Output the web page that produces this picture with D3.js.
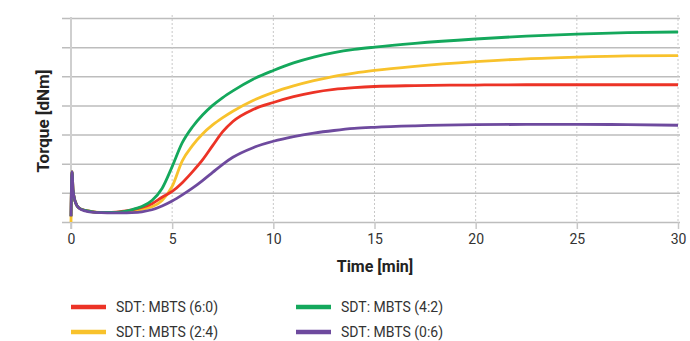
<!DOCTYPE html>
<html>
<head>
<meta charset="utf-8">
<style>
    body { margin: 0; background: #fff; }
    svg { font-family: Roboto, "DejaVu Sans", sans-serif; }
    .axis .domain { display: none; }
</style>
</head>
<body>
<svg width="690" height="341"></svg>
<script src="https://d3js.org/d3.v7.min.js"></script>
<script>
    // time [min]
    var times = [0, 0.05, 0.1, 0.2, 0.4, 0.7, 1, 1.5, 2, 2.5, 3, 3.5, 4, 4.5, 5, 5.5, 6, 6.5, 7, 7.5, 8, 9, 10, 11, 12, 13, 14, 15, 17, 20, 22.5, 25, 27.5, 30];

    // torque readings (grid units, no labels on the original)
    var red60 = [0.2, 1.72, 1.1, 0.72, 0.48, 0.4, 0.36, 0.33, 0.33, 0.36, 0.42, 0.5, 0.63, 0.85, 1.05, 1.35, 1.72, 2.13, 2.62, 3.1, 3.45, 3.86, 4.1, 4.3, 4.45, 4.55, 4.61, 4.65, 4.68, 4.7, 4.71, 4.71, 4.71, 4.71];
    var yellow24 = [0.0, 1.72, 1.1, 0.72, 0.48, 0.4, 0.36, 0.33, 0.32, 0.33, 0.36, 0.43, 0.52, 0.74, 1.22, 2.1, 2.62, 3.02, 3.33, 3.58, 3.8, 4.17, 4.45, 4.67, 4.85, 5.0, 5.11, 5.2, 5.34, 5.5, 5.6, 5.66, 5.7, 5.71];
    var green42 = [0.2, 1.72, 1.1, 0.72, 0.48, 0.4, 0.36, 0.33, 0.33, 0.35, 0.42, 0.53, 0.74, 1.15, 1.9, 2.72, 3.26, 3.67, 4.0, 4.27, 4.5, 4.9, 5.2, 5.46, 5.66, 5.81, 5.92, 6.0, 6.13, 6.28, 6.38, 6.45, 6.5, 6.52];
    var purple06 = [0.2, 1.72, 1.1, 0.72, 0.47, 0.38, 0.34, 0.32, 0.31, 0.31, 0.32, 0.35, 0.42, 0.55, 0.72, 0.93, 1.16, 1.42, 1.7, 1.98, 2.22, 2.55, 2.77, 2.93, 3.05, 3.14, 3.21, 3.25, 3.3, 3.34, 3.35, 3.35, 3.34, 3.32];

    var xTicks = [0, 5, 10, 15, 20, 25, 30];
    var yTicks = [0, 1, 2, 3, 4, 5, 6, 7];

    var series = [
        {name: "SDT: MBTS (2:4)", values: yellow24, color: "#f8c22c"},
        {name: "SDT: MBTS (6:0)", values: red60, color: "#ec3326"},
        {name: "SDT: MBTS (4:2)", values: green42, color: "#14a85c"},
        {name: "SDT: MBTS (0:6)", values: purple06, color: "#6e4a9e"}
    ];
    var legendOrder = ["SDT: MBTS (6:0)", "SDT: MBTS (4:2)", "SDT: MBTS (2:4)", "SDT: MBTS (0:6)"];

    var svg = d3.select("svg");

    var x = d3.scaleLinear().domain([0, 30]).range([71, 678]);
    var y = d3.scaleLinear().domain([0, 7]).range([222, 18]);

    // horizontal grid
    svg.append("g")
        .attr("class", "axis")
        .attr("transform", "translate(62,0)")
        .call(d3.axisLeft(y).tickValues(yTicks).tickSize(-618).tickFormat(""))
        .selectAll("line")
        .attr("stroke", "#bdbdbd")
        .attr("stroke-width", 1.5);

    // vertical dashed grid
    svg.append("g")
        .selectAll("line")
        .data(xTicks.slice(1))
        .enter().append("line")
        .attr("x1", function(d) { return x(d); })
        .attr("x2", function(d) { return x(d); })
        .attr("y1", 15)
        .attr("y2", 222)
        .attr("stroke", "#c8c8c8")
        .attr("stroke-width", 1)
        .attr("stroke-dasharray", "2,2");

    // y axis line at t = 0
    svg.append("line")
        .attr("x1", x(0)).attr("x2", x(0))
        .attr("y1", 17).attr("y2", 229)
        .attr("stroke", "#cfcfcf")
        .attr("stroke-width", 2);

    // x axis
    var xAxis = svg.append("g")
        .attr("class", "axis")
        .attr("transform", "translate(0,222)")
        .call(d3.axisBottom(x).tickValues(xTicks).tickSize(7).tickPadding(5));
    xAxis.selectAll("line").attr("stroke", "#c8c8c8").attr("stroke-width", 1.5);
    xAxis.selectAll("text")
        .attr("font-size", 14)
        .attr("fill", "#333")
        .attr("font-family", "Roboto, sans-serif");

    var line = d3.line()
        .x(function(d, i) { return x(times[i]); })
        .y(function(d) { return y(d); })
        .curve(d3.curveMonotoneX);

    svg.append("g")
        .selectAll("path")
        .data(series)
        .enter().append("path")
        .attr("fill", "none")
        .attr("stroke", function(d) { return d.color; })
        .attr("stroke-width", 2.8)
        .attr("stroke-linejoin", "round")
        .attr("d", function(d) { return line(d.values); });

    // axis titles
    svg.append("text")
        .attr("x", 375)
        .attr("y", 272)
        .attr("text-anchor", "middle")
        .attr("font-size", 16)
        .attr("font-weight", "bold")
        .attr("fill", "#222")
        .text("Time [min]");

    svg.append("text")
        .attr("transform", "translate(49,121) rotate(-90)")
        .attr("text-anchor", "middle")
        .attr("font-size", 17)
        .attr("font-weight", "bold")
        .attr("fill", "#222")
        .text("Torque [dNm]");

    // legend
    var legend = svg.append("g")
        .selectAll("g")
        .data(legendOrder)
        .enter().append("g")
        .attr("transform", function(d, i) {
            return "translate(" + (71 + (i % 2) * 225) + "," + (307 + Math.floor(i / 2) * 25) + ")";
        });

    legend.append("line")
        .attr("x1", 0).attr("x2", 35)
        .attr("stroke", function(d) { return series.find(function(s) { return s.name === d; }).color; })
        .attr("stroke-width", 4.5);

    legend.append("text")
        .attr("x", 45)
        .attr("dy", "0.35em")
        .attr("font-size", 14)
        .attr("fill", "#333")
        .text(function(d) { return d; });
</script>
</body>
</html>
